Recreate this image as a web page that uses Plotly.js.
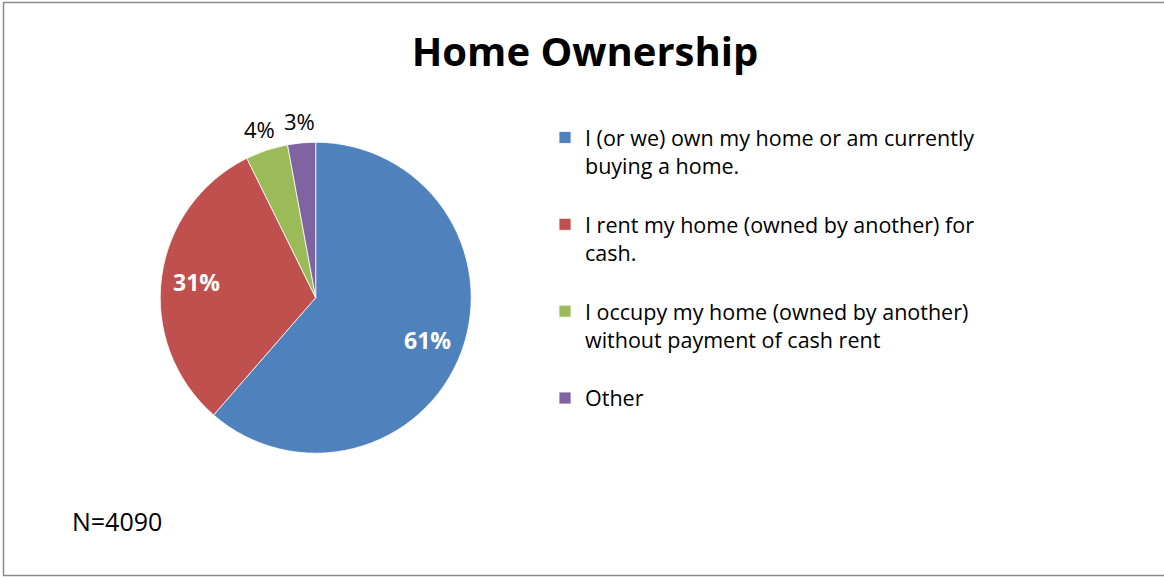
<!DOCTYPE html>
<html>
<head>
<meta charset="utf-8">
<script src="https://cdn.plot.ly/plotly-3.0.1.min.js"></script>
<style>
html, body { margin: 0; padding: 0; background: #ffffff; }
#chart { width: 1164px; height: 577px; }
</style>
</head>
<body>
<div id="chart"></div>
<script>
// Data
const categories = [
  "I (or we) own my home or am currently<br>buying a home.",
  "I rent my home (owned by another) for<br>cash.",
  "I occupy my home (owned by another)<br>without payment of cash rent",
  "Other"
];
const shares = [61.4, 31.3, 4.4, 2.9];
const sliceColors = ["#4F81BD", "#C0504D", "#9BBB59", "#8064A2"];
const labelInside = [true, true, false, false];
const chartTitle = "Home Ownership";
const sampleNote = "N=4090";

const W = 1164, H = 577;
const cx = 315.7, cy = 297.7, r = 155.5;

// spacer line so legend entries are spread like the original
const legendLabels = categories.map((c, i) => i < categories.length - 1 ? c + "<br>\u00a0" : c);

const trace = {
  type: "pie",
  labels: legendLabels,
  values: shares,
  sort: false,
  direction: "clockwise",
  rotation: 0,
  marker: { colors: sliceColors, line: { color: "#ffffff", width: 0.8 } },
  textinfo: "none",
  hoverinfo: "label+percent",
  domain: {
    x: [(cx - r) / W, (cx + r) / W],
    y: [(H - cy - r) / H, (H - cy + r) / H]
  },
  automargin: false
};

// percentage labels placed along each slice's mid-angle
const total = shares.reduce((a, b) => a + b, 0);
let cum = 0;
const pctAnnotations = shares.map((v, i) => {
  const frac = v / total;
  const mid = (cum + frac / 2) * 2 * Math.PI;
  cum += frac;
  const R = labelInside[i] ? r * 0.77 : r + 22;
  const px = cx + R * Math.sin(mid);
  const py = cy - R * Math.cos(mid);
  return {
    text: Math.round(frac * 100) + "%",
    xref: "paper", yref: "paper",
    x: px / W, y: 1 - py / H,
    xanchor: "center", yanchor: "middle",
    showarrow: false,
    font: labelInside[i]
      ? { family: "Open Sans", size: 23, color: "#ffffff", weight: "bold" }
      : { family: "Open Sans", size: 22, color: "#000000" }
  };
});

const layout = {
  width: W,
  height: H,
  margin: { l: 0, r: 0, t: 0, b: 0 },
  paper_bgcolor: "#ffffff",
  plot_bgcolor: "#ffffff",
  font: { family: "Open Sans", color: "#000000" },
  title: {
    text: chartTitle,
    font: { family: "Open Sans", size: 40, color: "#000000", weight: "bold" },
    x: 585 / W,
    xanchor: "center",
    xref: "container",
    y: 1 - 52 / H,
    yanchor: "middle",
    yref: "container"
  },
  showlegend: true,
  legend: {
    x: 545 / W,
    xanchor: "left",
    y: 1 - 117 / H,
    yanchor: "top",
    valign: "top",
    font: { family: "Open Sans", size: 21.5, color: "#000000" },
    bgcolor: "rgba(0,0,0,0)",
    borderwidth: 0
  },
  annotations: pctAnnotations.concat([{
    text: sampleNote,
    xref: "paper", yref: "paper",
    x: 70 / W, y: 1 - 521 / H,
    xanchor: "left", yanchor: "middle",
    showarrow: false,
    font: { family: "Open Sans", size: 25, color: "#000000" }
  }]),
  shapes: [{
    type: "rect",
    xref: "paper", yref: "paper",
    x0: 3.5 / W, x1: 1.01,
    y0: 1 - 575.5 / H, y1: 1 - 2.5 / H,
    line: { color: "#8a8a8a", width: 1.5 },
    fillcolor: "rgba(0,0,0,0)",
    layer: "above"
  }]
};

Plotly.newPlot("chart", [trace], layout, { displayModeBar: false, responsive: false });
</script>
</body>
</html>
